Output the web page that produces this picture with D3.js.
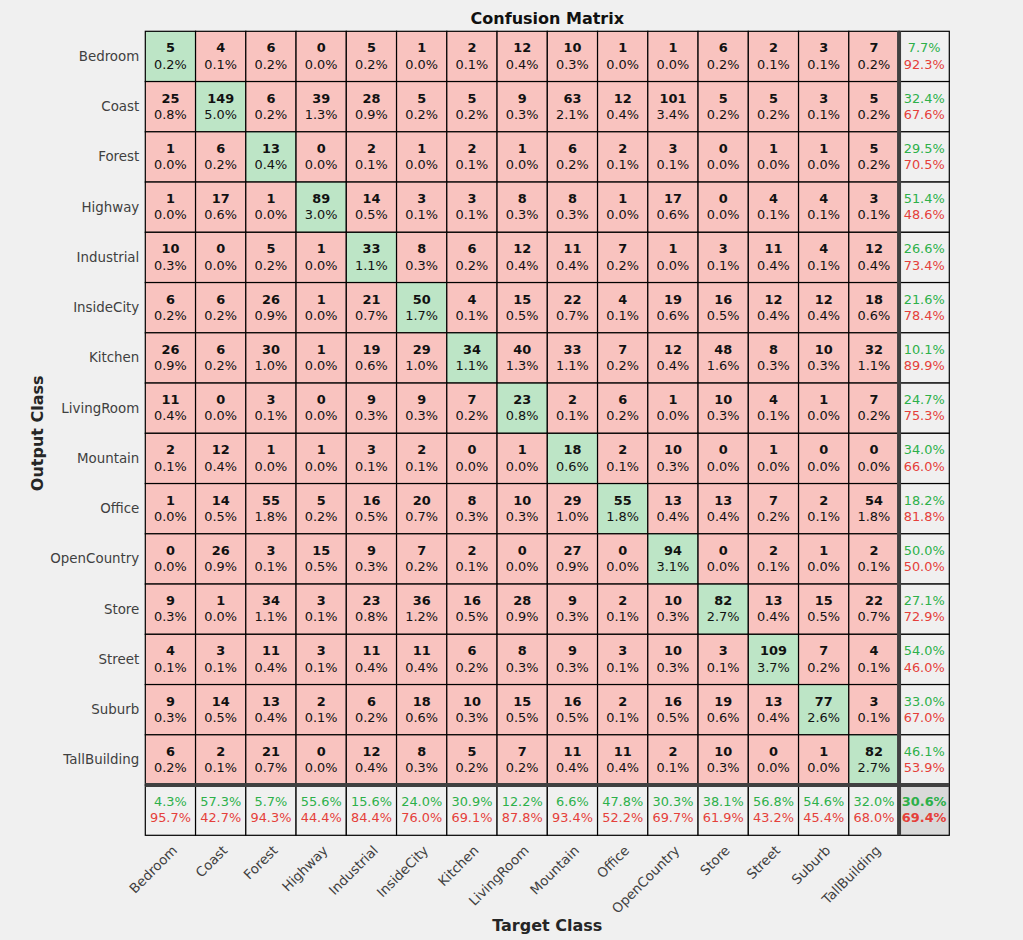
<!DOCTYPE html>
<html>
<head>
<meta charset="utf-8">
<script src="https://cdn.jsdelivr.net/npm/d3@7/dist/d3.min.js"></script>
<style>
  body { margin: 0; background: #f0f0f0; }
  text { font-family: "DejaVu Sans", sans-serif; }
</style>
</head>
<body>
<div id="chart"></div>
<script>
var svgWidth = 1023;
var svgHeight = 940;

// class names (rows = output class, columns = target class)
var classes = ["Bedroom", "Coast", "Forest", "Highway", "Industrial", "InsideCity",
  "Kitchen", "LivingRoom", "Mountain", "Office", "OpenCountry", "Store",
  "Street", "Suburb", "TallBuilding"];

// counts, one row per output class
var counts = [
  [5, 4, 6, 0, 5, 1, 2, 12, 10, 1, 1, 6, 2, 3, 7],
  [25, 149, 6, 39, 28, 5, 5, 9, 63, 12, 101, 5, 5, 3, 5],
  [1, 6, 13, 0, 2, 1, 2, 1, 6, 2, 3, 0, 1, 1, 5],
  [1, 17, 1, 89, 14, 3, 3, 8, 8, 1, 17, 0, 4, 4, 3],
  [10, 0, 5, 1, 33, 8, 6, 12, 11, 7, 1, 3, 11, 4, 12],
  [6, 6, 26, 1, 21, 50, 4, 15, 22, 4, 19, 16, 12, 12, 18],
  [26, 6, 30, 1, 19, 29, 34, 40, 33, 7, 12, 48, 8, 10, 32],
  [11, 0, 3, 0, 9, 9, 7, 23, 2, 6, 1, 10, 4, 1, 7],
  [2, 12, 1, 1, 3, 2, 0, 1, 18, 2, 10, 0, 1, 0, 0],
  [1, 14, 55, 5, 16, 20, 8, 10, 29, 55, 13, 13, 7, 2, 54],
  [0, 26, 3, 15, 9, 7, 2, 0, 27, 0, 94, 0, 2, 1, 2],
  [9, 1, 34, 3, 23, 36, 16, 28, 9, 2, 10, 82, 13, 15, 22],
  [4, 3, 11, 3, 11, 11, 6, 8, 9, 3, 10, 3, 109, 7, 4],
  [9, 14, 13, 2, 6, 18, 10, 15, 16, 2, 16, 19, 13, 77, 3],
  [6, 2, 21, 0, 12, 8, 5, 7, 11, 11, 2, 10, 0, 1, 82]
];

var gridLeft = 145.3, gridTop = 31.3, cellSize = 50.25;
var n = classes.length;
var bands = classes.concat(["__all"]);

var green = "#2db04a", red = "#e5403a";

var svg = d3.select("#chart")
  .append("svg")
  .attr("width", svgWidth)
  .attr("height", svgHeight);

var xScale = d3.scaleBand().domain(bands).range([gridLeft, gridLeft + cellSize * (n + 1)]);
var yScale = d3.scaleBand().domain(bands).range([gridTop, gridTop + cellSize * (n + 1)]);

var total = d3.sum(counts, r => d3.sum(r));
var rowSums = counts.map(r => d3.sum(r));
var colSums = classes.map((c, j) => d3.sum(counts, r => r[j]));
var diagSum = d3.sum(classes, (c, i) => counts[i][i]);

function pct(v) { return (v * 100).toFixed(1) + "%"; }

// main cells
var cells = [];
counts.forEach(function(row, i) {
  row.forEach(function(v, j) {
    cells.push({ out: classes[i], tgt: classes[j], value: v, diag: i === j });
  });
});

// summary cells
var summary = [];
classes.forEach(function(c, i) {
  summary.push({ out: c, tgt: "__all", acc: rowSums[i] ? counts[i][i] / rowSums[i] : 0 });
  summary.push({ out: "__all", tgt: c, acc: colSums[i] ? counts[i][i] / colSums[i] : 0 });
});
summary.push({ out: "__all", tgt: "__all", acc: diagSum / total, corner: true });

var w = xScale.bandwidth(), h = yScale.bandwidth();

svg.append("g").selectAll("rect")
  .data(cells)
  .enter().append("rect")
  .attr("x", d => xScale(d.tgt))
  .attr("y", d => yScale(d.out))
  .attr("width", w)
  .attr("height", h)
  .attr("fill", d => d.diag ? "#bde5c6" : "#f9c3bf")
  .attr("stroke", "#000")
  .attr("stroke-width", 1.2);

svg.append("g").selectAll("rect")
  .data(summary)
  .enter().append("rect")
  .attr("x", d => xScale(d.tgt))
  .attr("y", d => yScale(d.out))
  .attr("width", w)
  .attr("height", h)
  .attr("fill", d => d.corner ? "#d9d9d9" : "#f0f0f0")
  .attr("stroke", "#000")
  .attr("stroke-width", 1.2);

// thick separators before summary row / column
var sepX = xScale("__all"), sepY = yScale("__all");
var gridBottom = gridTop + cellSize * (n + 1);
var gridRight = gridLeft + cellSize * (n + 1);
svg.append("line")
  .attr("x1", sepX).attr("x2", sepX)
  .attr("y1", gridTop).attr("y2", gridBottom)
  .attr("stroke", "#404040").attr("stroke-width", 4);
svg.append("line")
  .attr("x1", gridLeft).attr("x2", gridRight)
  .attr("y1", sepY).attr("y2", sepY)
  .attr("stroke", "#404040").attr("stroke-width", 4);

// cell texts
var cellText = svg.append("g").selectAll("g")
  .data(cells)
  .enter().append("g")
  .attr("transform", d => `translate(${xScale(d.tgt) + w / 2}, ${yScale(d.out) + h / 2})`)
  .attr("text-anchor", "middle")
  .style("font-size", "12.9px")
  .attr("fill", "#111");

cellText.append("text")
  .attr("y", -4)
  .style("font-weight", "bold")
  .text(d => d.value);

cellText.append("text")
  .attr("y", 12.3)
  .text(d => pct(d.value / total));

var sumText = svg.append("g").selectAll("g")
  .data(summary)
  .enter().append("g")
  .attr("transform", d => `translate(${xScale(d.tgt) + w / 2}, ${yScale(d.out) + h / 2})`)
  .attr("text-anchor", "middle")
  .style("font-size", "12.9px")
  .style("font-weight", d => d.corner ? "bold" : "normal");

sumText.append("text")
  .attr("y", -4)
  .attr("fill", green)
  .text(d => pct(d.acc));

sumText.append("text")
  .attr("y", 12.3)
  .attr("fill", red)
  .text(d => pct(1 - d.acc));

// y tick labels
svg.append("g").selectAll("text")
  .data(classes)
  .enter().append("text")
  .attr("x", gridLeft - 6)
  .attr("y", d => yScale(d) + h / 2 + 4.5)
  .attr("text-anchor", "end")
  .style("font-size", "13.4px")
  .attr("fill", "#404040")
  .text(d => d);

// x tick labels
svg.append("g").selectAll("text")
  .data(classes)
  .enter().append("text")
  .attr("transform", d => `translate(${xScale(d) + w / 2 + 7.5}, ${gridBottom + 16}) rotate(-45)`)
  .attr("text-anchor", "end")
  .style("font-size", "13.4px")
  .attr("fill", "#404040")
  .text(d => d);

// titles
var midX = (gridLeft + gridRight) / 2;
svg.append("text")
  .attr("x", midX).attr("y", 24)
  .attr("text-anchor", "middle")
  .style("font-size", "16px").style("font-weight", "bold")
  .attr("fill", "#111")
  .text("Confusion Matrix");

svg.append("text")
  .attr("x", midX).attr("y", 931)
  .attr("text-anchor", "middle")
  .style("font-size", "16px").style("font-weight", "bold")
  .attr("fill", "#262626")
  .text("Target Class");

svg.append("text")
  .attr("transform", `translate(43, ${(gridTop + gridBottom) / 2}) rotate(-90)`)
  .attr("text-anchor", "middle")
  .style("font-size", "16px").style("font-weight", "bold")
  .attr("fill", "#262626")
  .text("Output Class");
</script>
</body>
</html>
